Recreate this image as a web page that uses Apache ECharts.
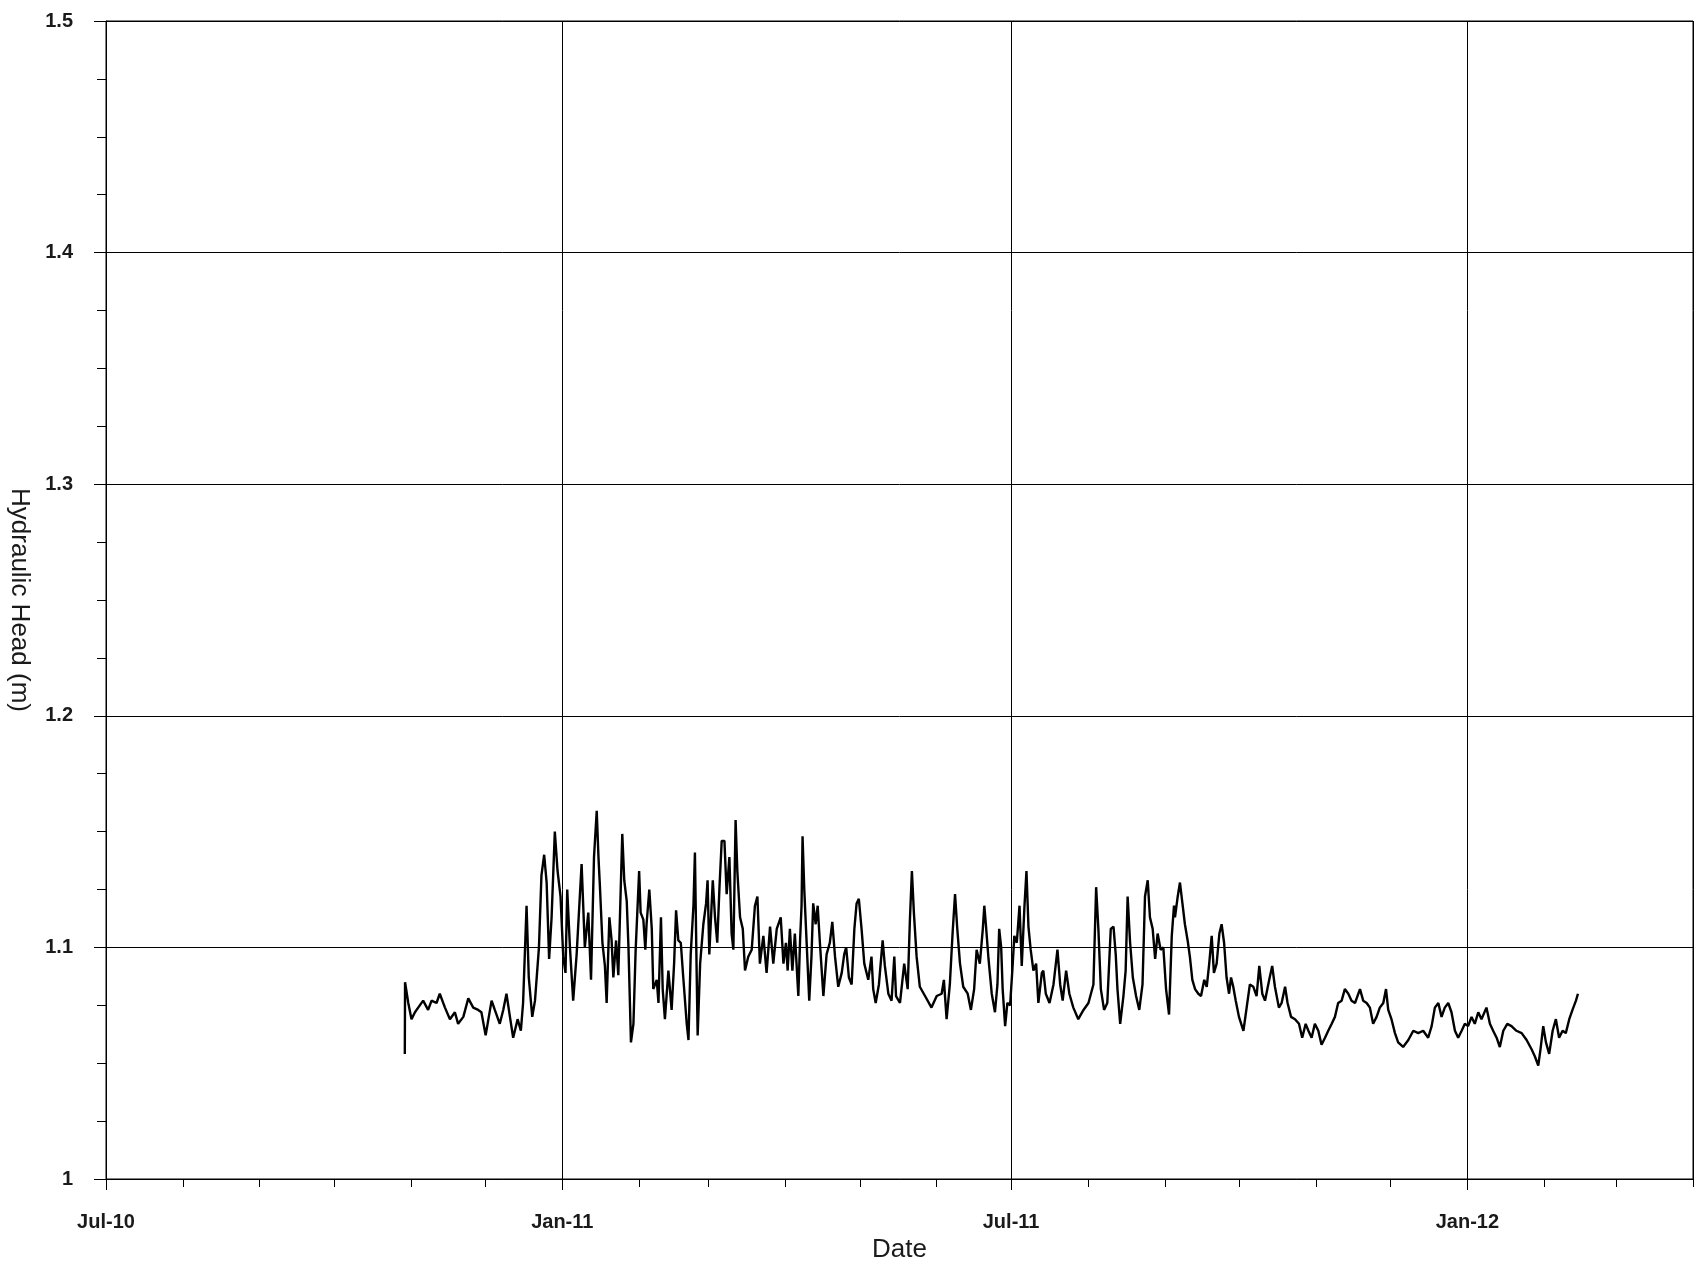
<!DOCTYPE html>
<html><head><meta charset="utf-8">
<script src="https://cdn.jsdelivr.net/npm/echarts@6/dist/echarts.min.js"></script>
<style>html,body{margin:0;padding:0;background:#fff}#c{width:1702px;height:1264px}</style>
</head><body><div id="c"></div>
<script>
// Time origin of the day offsets and axis span
const START_DATE = [2010, 6, 1];   // Jul 1 2010
const END_DATE = [2012, 3, 1];     // Apr 1 2012
const MONTH_NAMES = ['Jan','Feb','Mar','Apr','May','Jun','Jul','Aug','Sep','Oct','Nov','Dec'];
const Y_MIN = 1, Y_MAX = 1.5, Y_STEP = 0.1;

// Days since Jul 1 2010
const dayOffsets = [
120.5,120.6,121.9,123.2,124.6,125.9,127.9,129.9,131.3,133.3,134.6,136.7,138.7,140.7,142.0,144.1,146.1,148.1,150.1,151.4,
153.1,155.5,156.8,158.8,160.2,161.5,162.9,164.2,166.0,167.3,168.2,169.6,170.5,171.9,173.0,174.6,175.6,176.7,177.7,178.7,
179.7,181.0,182.1,183.3,184.4,185.3,186.0,187.1,188.4,189.8,191.8,193.1,194.5,
195.6,196.8,197.9,198.6,199.2,200.2,201.2,201.9,203.0,203.9,204.6,205.7,206.6,208.2,209.0,210.0,210.7,211.7,212.7,213.6,
215.0,215.6,216.7,217.5,218.0,219.1,220.1,220.7,222.1,222.8,223.8,224.5,225.4,226.8,228.1,229.1,229.9,230.8,231.8,232.8,
234.2,234.9,235.8,236.9,237.5,238.2,238.6,239.6,240.9,242.0,242.6,243.3,244.7,245.6,246.5,247.4,248.3,249.4,250.3,251.4,
252.3,253.0,253.9,254.6,255.7,256.8,257.7,259.0,260.4,261.7,262.7,263.7,265.1,266.4,267.8,269.1,270.5,272.1,273.2,
274.2,274.9,275.8,276.8,277.8,279.2,279.9,280.5,280.9,281.6,282.3,283.6,284.5,285.2,286.2,287.0,287.9,289.3,290.6,291.9,
292.9,294.0,295.3,296.7,297.7,298.5,299.6,300.7,301.8,302.7,303.6,304.7,305.8,307.4,308.7,309.4,310.4,311.7,313.2,314.1,
315.5,316.8,317.9,318.6,320.2,321.9,323.3,324.2,325.0,325.8,326.9,328.2,330.3,332.9,335.0,337.0,337.9,339.0,340.3,341.4,
342.4,343.3,344.4,345.7,347.5,348.8,350.1,351.1,352.4,
353.6,354.2,354.9,355.9,357.2,358.5,359.5,360.2,361.0,361.6,362.6,363.5,364.6,365.5,366.3,367.3,368.4,369.3,370.4,371.2,
372.0,372.9,374.0,375.1,376.0,377.4,378.0,379.0,380.5,382.1,383.7,384.8,385.8,387.2,388.5,390.1,392.1,394.2,396.2,398.2,
399.3,400.2,401.2,402.5,403.8,405.2,406.3,407.2,407.9,409.0,410.3,411.2,412.0,413.0,414.1,415.4,416.7,418.0,419.0,420.1,
421.0,422.1,423.1,424.1,425.3,426.4,427.5,428.7,429.8,430.7,
431.1,432.2,433.1,434.1,435.1,436.2,437.1,438.1,439.2,440.5,441.6,442.9,443.9,444.9,445.9,446.8,447.9,449.0,449.9,450.9,
451.9,452.9,453.7,454.6,455.6,456.9,458.7,460.0,461.3,462.7,464.0,465.1,466.3,467.4,469.1,470.3,471.4,473.0,474.1,475.5,
476.5,477.9,479.5,481.1,482.4,483.8,484.9,486.2,487.5,488.9,490.2,491.6,492.9,494.3,495.6,496.9,498.3,499.6,501.0,502.3,
503.7,505.7,507.0,508.4,
509.7,511.0,512.4,513.7,515.1,516.2,517.1,518.4,519.8,521.1,523.1,525.2,527.2,529.2,531.2,533.2,534.6,535.9,537.3,538.6,
539.9,541.3,542.6,544.0,545.3,546.7,548.0,549.3,550.7,552.0,553.4,554.7,556.7,558.1,559.4,560.8,562.1,563.5,565.1,566.8,
568.8,570.9,572.9,574.9,576.2,577.6,578.5,579.6,580.7,582.0,583.4,584.7,586.0,587.4,588.7,590.1,591.4,592.8,593.6
];

// Hydraulic head (m)
const heads = [
1.054,1.085,1.076,1.069,1.072,1.074,1.077,1.073,1.077,1.076,1.080,1.074,1.069,1.072,1.067,1.070,1.078,1.074,1.073,1.072,
1.062,1.077,1.073,1.067,1.073,1.080,1.070,1.061,1.069,1.064,1.076,1.118,1.087,1.070,1.077,1.100,1.131,1.140,1.128,1.095,
1.113,1.150,1.133,1.122,1.096,1.089,1.125,1.100,1.077,1.097,1.136,1.100,1.115,
1.086,1.139,1.159,1.139,1.126,1.102,1.092,1.076,1.113,1.103,1.087,1.103,1.088,1.149,1.129,1.120,1.100,1.059,1.067,1.099,
1.133,1.115,1.112,1.099,1.110,1.125,1.108,1.082,1.086,1.076,1.113,1.082,1.069,1.090,1.073,1.093,1.116,1.103,1.102,1.087,
1.067,1.060,1.097,1.118,1.141,1.089,1.062,1.093,1.110,1.119,1.129,1.097,1.129,1.113,1.102,1.126,1.146,1.146,1.123,1.139,
1.106,1.099,1.155,1.133,1.113,1.108,1.090,1.096,1.099,1.118,1.122,1.093,1.105,1.089,1.109,1.093,1.108,1.113,1.093,
1.102,1.090,1.108,1.090,1.106,1.079,1.103,1.118,1.148,1.125,1.108,1.077,1.096,1.119,1.110,1.118,1.102,1.079,1.097,1.102,
1.111,1.096,1.083,1.089,1.097,1.100,1.087,1.084,1.108,1.119,1.121,1.108,1.093,1.086,1.096,1.082,1.076,1.084,1.103,1.092,
1.080,1.077,1.096,1.079,1.076,1.093,1.082,1.112,1.133,1.115,1.096,1.083,1.079,1.074,1.079,1.080,1.086,1.069,1.084,1.106,
1.123,1.108,1.093,1.083,1.080,1.073,1.082,1.099,1.093,
1.108,1.118,1.109,1.095,1.080,1.072,1.084,1.108,1.100,1.082,1.066,1.076,1.075,1.090,1.105,1.102,1.118,1.092,1.118,1.133,
1.109,1.099,1.090,1.093,1.076,1.089,1.090,1.080,1.076,1.084,1.099,1.084,1.077,1.090,1.080,1.074,1.069,1.073,1.076,1.084,
1.126,1.108,1.082,1.073,1.076,1.108,1.109,1.097,1.082,1.067,1.079,1.090,1.122,1.102,1.087,1.079,1.073,1.084,1.122,1.129,
1.113,1.108,1.095,1.106,1.099,1.100,1.082,1.071,1.105,1.118,
1.113,1.122,1.128,1.119,1.110,1.103,1.096,1.086,1.082,1.080,1.079,1.086,1.083,1.093,1.105,1.089,1.093,1.106,1.110,1.102,
1.087,1.080,1.087,1.083,1.077,1.070,1.064,1.074,1.084,1.083,1.079,1.092,1.080,1.077,1.086,1.092,1.083,1.074,1.076,1.083,
1.076,1.070,1.069,1.067,1.061,1.067,1.064,1.061,1.067,1.064,1.058,1.061,1.064,1.067,1.070,1.076,1.077,1.082,1.080,1.077,
1.076,1.082,1.077,1.076,
1.074,1.067,1.070,1.074,1.076,1.082,1.073,1.069,1.063,1.059,1.057,1.060,1.064,1.063,1.064,1.061,1.066,1.074,1.076,1.070,
1.074,1.076,1.072,1.064,1.061,1.064,1.067,1.066,1.070,1.067,1.072,1.069,1.074,1.067,1.064,1.061,1.057,1.064,1.067,1.066,
1.064,1.063,1.060,1.056,1.053,1.049,1.056,1.066,1.059,1.054,1.064,1.069,1.061,1.064,1.063,1.069,1.073,1.077,1.080
];

const DAY_MS = 86400000;
const t0 = new Date(START_DATE[0], START_DATE[1], START_DATE[2]).getTime();
const tEnd = new Date(END_DATE[0], END_DATE[1], END_DATE[2]).getTime();
const seriesData = dayOffsets.map((d, i) => [t0 + d * DAY_MS, heads[i]]);

function fmtDate(v) {
  const d = new Date(v);
  return MONTH_NAMES[d.getMonth()] + '-' + String(d.getFullYear() % 100).padStart(2, '0');
}

const FONT = 'Liberation Sans, Arial, sans-serif';
const TXT = '#1a1a1a';
const chart = echarts.init(document.getElementById('c'), null, {renderer: 'canvas'});
chart.setOption({
  animation: false,
  backgroundColor: '#fff',
  grid: {left: 106, right: 9, top: 21, bottom: 85, containLabel: false, outerBoundsMode: 'none',
         show: true, borderColor: '#000', borderWidth: 1, backgroundColor: 'transparent'},
  xAxis: [{
    type: 'time', min: t0, max: tEnd,
    minInterval: 185 * DAY_MS, maxInterval: 185 * DAY_MS,
    axisLine: {show: true, lineStyle: {color: '#000', width: 1}},
    axisTick: {show: true, length: 11, lineStyle: {color: '#000'}},
    axisLabel: {formatter: fmtDate, margin: 33, fontSize: 20, fontWeight: 'bold', color: TXT, fontFamily: FONT, showMinLabel: true, showMaxLabel: false},
    splitLine: {show: true, lineStyle: {color: '#000', width: 1}},
    name: 'Date', nameLocation: 'middle', nameGap: 58,
    nameTextStyle: {fontSize: 26, color: TXT, fontFamily: FONT}
  }, {
    type: 'time', min: t0, max: tEnd, position: 'bottom',
    minInterval: 30 * DAY_MS, maxInterval: 30 * DAY_MS,
    axisLine: {show: false},
    axisTick: {show: true, length: 8, lineStyle: {color: '#000'}},
    axisLabel: {show: false},
    splitLine: {show: false}
  }],
  yAxis: {
    type: 'value', min: Y_MIN, max: Y_MAX, interval: Y_STEP,
    axisLine: {show: true, lineStyle: {color: '#000', width: 1}},
    axisTick: {show: true, length: 12, lineStyle: {color: '#000'}},
    minorTick: {show: true, splitNumber: 4, length: 9, lineStyle: {color: '#000'}},
    axisLabel: {margin: 33, fontSize: 20, fontWeight: 'bold', color: TXT, fontFamily: FONT},
    splitLine: {show: true, lineStyle: {color: '#000', width: 1}},
    name: 'Hydraulic Head (m)', nameLocation: 'middle', nameRotate: -90, nameGap: 74,
    nameTextStyle: {fontSize: 26, color: TXT, fontFamily: FONT}
  },
  series: [{
    type: 'line', xAxisIndex: 0, data: seriesData, showSymbol: false, symbol: 'none',
    lineStyle: {color: '#000', width: 2.4}, z: 5
  }]
});
</script>
</body></html>
